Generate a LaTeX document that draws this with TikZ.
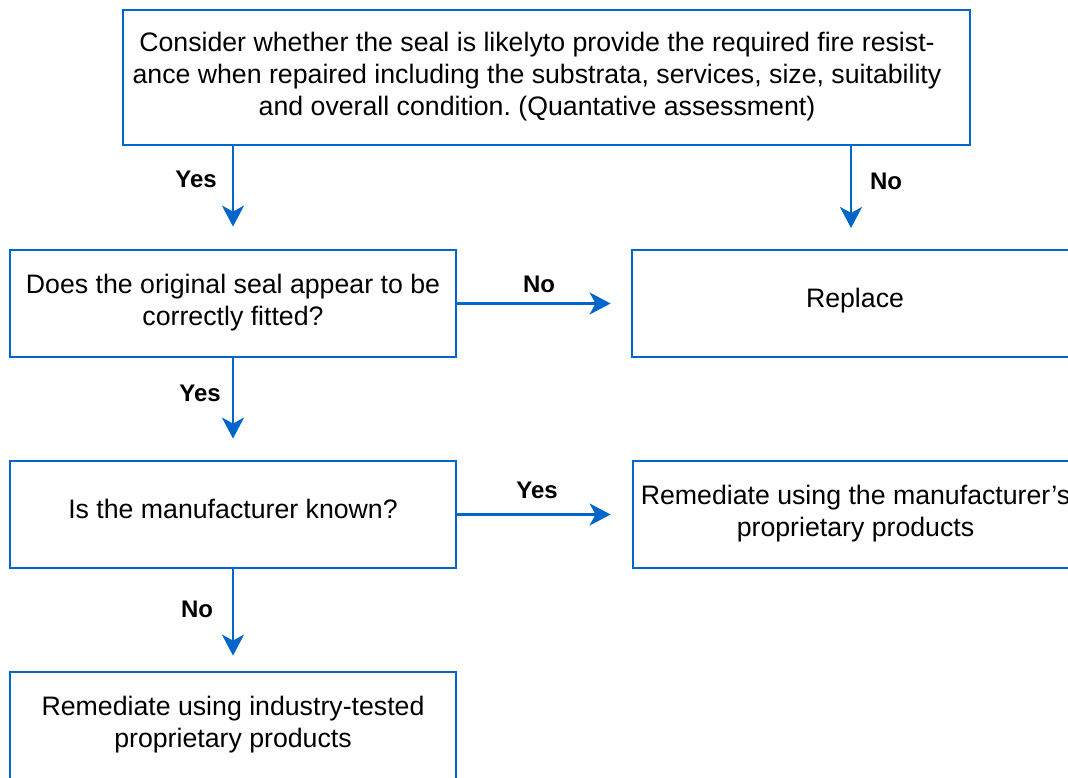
\documentclass[tikz,border=0pt]{standalone}
\usepackage{fontspec}
\setmainfont{Liberation Sans}
\usetikzlibrary{arrows.meta}
\definecolor{flowblue}{RGB}{0,102,204}
\frenchspacing
\begin{document}
\begin{tikzpicture}[x=1pt,y=-1pt,
  box/.style={draw=flowblue, line width=2.8pt, fill=white, rectangle,
    minimum width=446pt, minimum height=107pt, inner sep=0pt,
    align=center, font=\fontsize{26.7}{32}\selectfont},
  arr/.style={draw=flowblue, line width=2.8pt,
    -{Stealth[length=21pt,width=22pt,inset=6pt]}},
  lbl/.style={font=\fontsize{24}{28}\selectfont\bfseries, inner sep=0pt}]
  \useasboundingbox (0,0) rectangle (1068,778);

  % decision and action boxes
  \node[box, minimum width=847pt, minimum height=135pt] (top) at (546.5,77.5)
    {\hspace*{-19pt}\raisebox{-5pt}{\begin{tabular}{@{}c@{}}Consider whether the seal is likelyto provide the required fire resist-\\
     ance when repaired including the substrata, services, size, suitability\\
     and overall condition. (Quantative assessment)\end{tabular}}};
  \node[box] (fit) at (233,303.5)
    {\raisebox{4pt}{\begin{tabular}{@{}c@{}}Does the original seal appear to be\\correctly fitted?\end{tabular}}};
  \node[box] (rep) at (855,303.5) {\raisebox{12pt}{Replace}};
  \node[box] (man) at (233,514.5) {\raisebox{12pt}{Is the manufacturer known?}};
  \node[box, minimum width=445pt] (prop) at (855.5,514.5)
    {\raisebox{4pt}{\begin{tabular}{@{}c@{}}Remediate using the manufacturer’s\\proprietary products\end{tabular}}};
  \node[box] (ind) at (233,725.5)
    {\raisebox{4pt}{\begin{tabular}{@{}c@{}}Remediate using industry-tested\\proprietary products\end{tabular}}};

  % connectors
  \draw[arr, shorten >=22pt] (top.south -| fit) -- (fit.north);
  \draw[arr, shorten >=22pt] (top.south -| 851,0) -- (851,250);
  \draw[arr, shorten >=20pt] (fit.east) -- (fit.east -| rep.west);
  \draw[arr, shorten >=21pt] (fit.south) -- (man.north);
  \draw[arr, shorten >=21pt] (man.east) -- (man.east -| prop.west);
  \draw[arr, shorten >=15pt] (man.south) -- (ind.north);

  % branch labels
  \node[lbl] (l1) at (196,179) {Yes};
  \node[lbl] (l2) at (886,181) {No};
  \node[lbl] (l3) at (539,284) {No};
  \node[lbl] (l4) at (200,393) {Yes};
  \node[lbl] (l5) at (537,490) {Yes};
  \node[lbl] (l6) at (197,609) {No};
\end{tikzpicture}
\end{document}
